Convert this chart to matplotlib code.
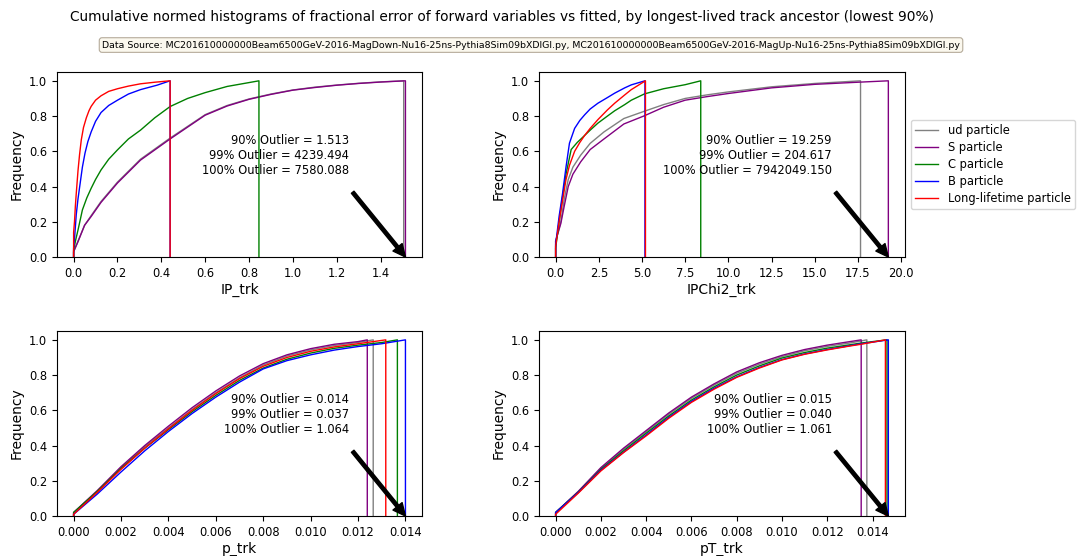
import matplotlib
matplotlib.use("Agg")
import matplotlib.pyplot as plt

plt.rcParams['font.family'] = ['DejaVu Sans']
plt.rcParams['font.size'] = 8.3
plt.rcParams['xtick.labelsize'] = 8.3
plt.rcParams['ytick.labelsize'] = 8.3
plt.rcParams['axes.labelsize'] = 10

# particle classes, in drawing order
labels = ['ud particle', 'S particle', 'C particle', 'B particle', 'Long-lifetime particle']
colors = ['grey', 'purple', 'green', 'blue', 'red']

# ---- IP_trk (cumulative fraction) ----
ip_ud_x = [0, 0.02, 0.05, 0.08, 0.125, 0.2, 0.305, 0.44, 0.6, 0.7, 0.8, 0.9, 1.0, 1.1, 1.2, 1.3, 1.4, 1.505]
ip_ud_y = [0.03, 0.09, 0.18, 0.235, 0.315, 0.425, 0.555, 0.675, 0.808, 0.86, 0.897, 0.925, 0.948, 0.964, 0.976, 0.986, 0.994, 1.0]
ip_s_x = [0, 0.02, 0.05, 0.08, 0.125, 0.2, 0.305, 0.44, 0.6, 0.7, 0.8, 0.9, 1.0, 1.1, 1.2, 1.3, 1.4, 1.513]
ip_s_y = [0.03, 0.087, 0.18, 0.23, 0.31, 0.42, 0.55, 0.67, 0.805, 0.857, 0.895, 0.923, 0.947, 0.962, 0.975, 0.985, 0.993, 1.0]
ip_c_x = [0, 0.01, 0.02, 0.04, 0.06, 0.08, 0.1, 0.125, 0.16, 0.2, 0.25, 0.305, 0.37, 0.44, 0.52, 0.6, 0.7, 0.8, 0.845]
ip_c_y = [0.04, 0.1, 0.153, 0.267, 0.335, 0.39, 0.44, 0.494, 0.555, 0.608, 0.67, 0.72, 0.79, 0.854, 0.9, 0.933, 0.968, 0.99, 1.0]
ip_b_x = [0, 0.005, 0.012, 0.02, 0.03, 0.04, 0.052, 0.065, 0.08, 0.1, 0.125, 0.16, 0.2, 0.25, 0.305, 0.38, 0.44]
ip_b_y = [0.05, 0.12, 0.24, 0.33, 0.42, 0.51, 0.59, 0.655, 0.71, 0.77, 0.82, 0.86, 0.89, 0.925, 0.95, 0.975, 1.0]
ip_l_x = [0, 0.004, 0.008, 0.012, 0.02, 0.027, 0.035, 0.045, 0.058, 0.07, 0.08, 0.1, 0.125, 0.16, 0.2, 0.25, 0.305, 0.37, 0.44]
ip_l_y = [0.14, 0.2, 0.29, 0.36, 0.49, 0.58, 0.665, 0.735, 0.79, 0.83, 0.855, 0.89, 0.915, 0.94, 0.955, 0.97, 0.983, 0.992, 1.0]

# ---- IPChi2_trk ----
chi_ud_x = [0, 0.3, 0.5, 0.73, 1.0, 1.45, 2.0, 2.8, 3.95, 5.1, 6.25, 7.5, 8.75, 10, 12.5, 15, 17.65]
chi_ud_y = [0.09, 0.2, 0.33, 0.44, 0.51, 0.578, 0.645, 0.71, 0.786, 0.826, 0.865, 0.9, 0.92, 0.937, 0.966, 0.985, 1.0]
chi_s_x = [0, 0.3, 0.5, 0.73, 1.0, 1.45, 2.0, 2.8, 3.95, 5.1, 6.25, 7.5, 8.75, 10, 12.5, 15, 17.5, 19.26]
chi_s_y = [0.09, 0.19, 0.29, 0.4, 0.47, 0.54, 0.61, 0.67, 0.755, 0.8, 0.85, 0.89, 0.91, 0.928, 0.96, 0.98, 0.992, 1.0]
chi_c_x = [0, 0.2, 0.4, 0.6, 0.9, 1.25, 1.68, 2.0, 2.45, 3.0, 3.42, 4.0, 4.38, 5.15, 6.25, 7.5, 8.4]
chi_c_y = [0.05, 0.2, 0.34, 0.47, 0.61, 0.65, 0.69, 0.72, 0.76, 0.8, 0.83, 0.865, 0.89, 0.926, 0.955, 0.978, 1.0]
chi_b_x = [0, 0.2, 0.4, 0.6, 0.8, 1.1, 1.4, 1.68, 2.0, 2.45, 3.0, 3.42, 4.0, 4.38, 5.17]
chi_b_y = [0.07, 0.23, 0.36, 0.51, 0.646, 0.73, 0.775, 0.807, 0.84, 0.873, 0.905, 0.93, 0.96, 0.977, 1.0]
chi_l_x = [0, 0.2, 0.4, 0.6, 0.8, 1.1, 1.4, 1.68, 2.0, 2.45, 3.0, 3.42, 4.0, 4.38, 5.2]
chi_l_y = [0.06, 0.2, 0.32, 0.44, 0.52, 0.6, 0.65, 0.69, 0.73, 0.78, 0.835, 0.873, 0.92, 0.95, 1.0]

# ---- p_trk ----
grid = [0, 0.001, 0.002, 0.003, 0.004, 0.005, 0.006, 0.007, 0.008, 0.009, 0.010, 0.011, 0.012]
p_ud_x = grid + [0.01264]
p_ud_y = [0.02, 0.14, 0.275, 0.395, 0.50, 0.605, 0.70, 0.785, 0.857, 0.908, 0.943, 0.968, 0.985, 1.0]
p_s_x = grid + [0.01239]
p_s_y = [0.02, 0.145, 0.28, 0.40, 0.51, 0.615, 0.71, 0.795, 0.865, 0.915, 0.95, 0.975, 0.99, 1.0]
p_c_x = grid + [0.013, 0.01366]
p_c_y = [0.02, 0.14, 0.27, 0.385, 0.49, 0.592, 0.685, 0.77, 0.84, 0.89, 0.925, 0.952, 0.97, 0.985, 1.0]
p_b_x = grid + [0.013, 0.0140]
p_b_y = [0.01, 0.125, 0.25, 0.37, 0.48, 0.582, 0.675, 0.76, 0.835, 0.882, 0.915, 0.942, 0.962, 0.978, 1.0]
p_l_x = grid + [0.01317]
p_l_y = [0.01, 0.135, 0.265, 0.385, 0.495, 0.6, 0.695, 0.78, 0.85, 0.9, 0.935, 0.96, 0.978, 1.0]

# ---- pT_trk ----
pt_ud_x = grid + [0.013, 0.01375]
pt_ud_y = [0.02, 0.138, 0.27, 0.378, 0.478, 0.578, 0.668, 0.743, 0.81, 0.862, 0.905, 0.938, 0.963, 0.982, 1.0]
pt_s_x = grid + [0.013, 0.0135]
pt_s_y = [0.02, 0.14, 0.275, 0.385, 0.485, 0.585, 0.675, 0.75, 0.818, 0.87, 0.912, 0.945, 0.97, 0.99, 1.0]
pt_c_x = grid + [0.013, 0.0135, 0.01464]
pt_c_y = [0.02, 0.135, 0.265, 0.37, 0.47, 0.568, 0.658, 0.733, 0.80, 0.852, 0.897, 0.928, 0.953, 0.972, 0.982, 1.0]
pt_b_x = grid + [0.013, 0.0135, 0.0147]
pt_b_y = [0.02, 0.133, 0.26, 0.362, 0.46, 0.56, 0.65, 0.725, 0.79, 0.843, 0.888, 0.92, 0.945, 0.967, 0.978, 1.0]
pt_l_x = grid + [0.013, 0.0135, 0.01457]
pt_l_y = [0.01, 0.13, 0.256, 0.36, 0.455, 0.555, 0.645, 0.72, 0.787, 0.84, 0.886, 0.918, 0.943, 0.965, 0.975, 1.0]

variables = ['IP_trk', 'IPChi2_trk', 'p_trk', 'pT_trk']
outlier_90 = [1.513, 19.259, 0.014, 0.0147]
outlier_text = [
    ['1.513', '4239.494', '7580.088'],
    ['19.259', '204.617', '7942049.150'],
    ['0.014', '0.037', '1.064'],
    ['0.015', '0.040', '1.061'],
]
curves = [
    [(ip_ud_x, ip_ud_y), (ip_s_x, ip_s_y), (ip_c_x, ip_c_y), (ip_b_x, ip_b_y), (ip_l_x, ip_l_y)],
    [(chi_ud_x, chi_ud_y), (chi_s_x, chi_s_y), (chi_c_x, chi_c_y), (chi_b_x, chi_b_y), (chi_l_x, chi_l_y)],
    [(p_ud_x, p_ud_y), (p_s_x, p_s_y), (p_c_x, p_c_y), (p_b_x, p_b_y), (p_l_x, p_l_y)],
    [(pt_ud_x, pt_ud_y), (pt_s_x, pt_s_y), (pt_c_x, pt_c_y), (pt_b_x, pt_b_y), (pt_l_x, pt_l_y)],
]

fig = plt.figure(figsize=(10.78, 5.56), dpi=100)
boxes = [
    [0.0529, 0.5378, 0.3386, 0.3327],
    [0.5000, 0.5378, 0.3395, 0.3327],
    [0.0529, 0.0719, 0.3386, 0.3327],
    [0.5000, 0.0719, 0.3395, 0.3327],
]

for i, var in enumerate(variables):
    ax = fig.add_axes(boxes[i])
    for (xs, ys), lab, col in zip(curves[i], labels, colors):
        # step outline: rise from zero at the first edge, drop back at the last
        ax.plot([xs[0]] + xs + [xs[-1]], [0] + ys + [0], color=col, lw=1.0, label=lab)
    xmax = max(c[0][-1] for c in curves[i])
    ax.set_xlim(-0.05 * xmax, 1.05 * xmax)
    ax.set_ylim(0, 1.05)
    ax.set_xlabel(var, labelpad=2)
    ax.set_ylabel('Frequency')
    t = outlier_text[i]
    txt = f'90% Outlier = {t[0]}\n99% Outlier = {t[1]}\n100% Outlier = {t[2]}'
    ax.text(0.8, 0.55, txt, transform=ax.transAxes, ha='right', va='center', multialignment='right')
    ax.annotate('', xy=(outlier_90[i], 0), xycoords='data',
                xytext=(0.81, 0.35), textcoords='axes fraction',
                arrowprops=dict(facecolor='black', edgecolor='black', width=2.4,
                                headwidth=8.5, headlength=9, shrink=0))
    if i == 1:
        ax.legend(loc='center left', bbox_to_anchor=(1.0, 0.5), fontsize=8.3, labelspacing=0.33)

fig.text(0.466, 0.969, 'Cumulative normed histograms of fractional error of forward variables vs fitted, '
         'by longest-lived track ancestor (lowest 90%)', ha='center', va='center', fontsize=9.95)
fig.text(0.4926, 0.919, 'Data Source: MC201610000000Beam6500GeV-2016-MagDown-Nu16-25ns-Pythia8Sim09bXDIGI.py, '
         'MC201610000000Beam6500GeV-2016-MagUp-Nu16-25ns-Pythia8Sim09bXDIGI.py',
         ha='center', va='center', fontsize=6.75,
         bbox=dict(boxstyle='round,pad=0.3', facecolor='#fbf8ee', edgecolor='#b5ab9a', lw=0.8))

fig.savefig('out.png', dpi=100)
